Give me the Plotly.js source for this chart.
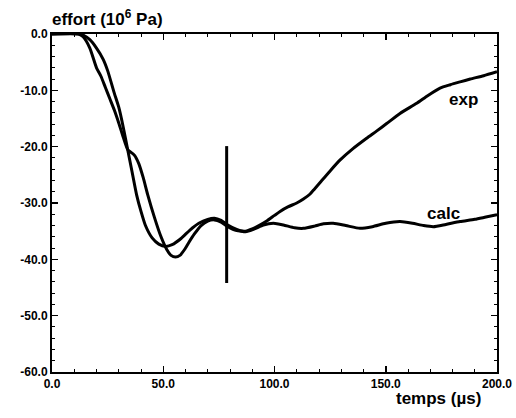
<!DOCTYPE html>
<html>
<head>
<meta charset="utf-8">
<script src="https://cdn.plot.ly/plotly-3.0.1.min.js"></script>
<style>html,body{margin:0;padding:0;background:#fff;}#chart{width:516px;height:418px;}</style>
</head>
<body>
<div id="chart"></div>
<script>
// exp curve (shoulder near -21, deeper minimum)
const expX = [0,12,14,17,20,22,24,26,28,30,32,34,35.5,37,39,41,43,46,49,51.5,53.5,55.5,57.5,59.5,61.5,64,67,70,73,76,79,83,87,90,93,96.5,100,102.5,106,110,113,116,118,120.4,125,129.4,135.4,141.4,146,150.4,156.4,163.9,169,174.4,179,183.4,188,194,200];
const expY = [0,0,-0.5,-2.5,-6,-7.5,-9.5,-11.5,-13.5,-15.8,-18.3,-20.5,-21,-21.5,-23,-25.5,-28.5,-32.5,-36,-38.2,-39.3,-39.6,-39.3,-38.3,-37,-35.5,-34,-33.2,-33.0,-33.4,-34.2,-34.9,-35,-34.6,-34,-33.2,-32.2,-31.5,-30.7,-30.0,-29.3,-28.4,-27.5,-26.4,-24.3,-22.4,-20.3,-18.5,-17.2,-15.9,-14.1,-12.3,-10.9,-9.6,-9.0,-8.5,-8.0,-7.4,-6.7];
// calc curve
const calcX = [0,12,14,17,20,23,25,28,30,32,34,36,38,40,42,45,48,51,54,58,62,66,70,73,76,79,83,87,91,95,99.5,104,109,113,118,122,126.4,132,138.4,144,150,156.4,162,167,171.4,177,183.4,190,195,200];
const calcY = [0,0,-0.2,-1,-2.5,-4.5,-6.5,-10.5,-13,-16.5,-20.5,-24.5,-28.5,-31.5,-34,-36.2,-37.3,-37.7,-37.4,-36.3,-34.8,-33.6,-32.9,-32.7,-33.1,-33.9,-34.7,-35.1,-34.6,-33.9,-33.6,-33.9,-34.4,-34.5,-34.1,-33.7,-33.6,-34.0,-34.5,-34.2,-33.6,-33.3,-33.6,-34.0,-34.2,-33.8,-33.3,-32.9,-32.5,-32.1];
// vertical marker
const markX = [78.5, 78.5];
const markY = [-19.9, -44.2];

const xTickVals = [0,50,100,150,200];
const xTickText = ["0.0","50.0","100.0","150.0","200.0"];
const yTickVals = [0,-10,-20,-30,-40,-50,-60];
const yTickText = ["0.0","-10.0","-20.0","-30.0","-40.0","-50.0","-60.0"];

const FONT = "Liberation Sans, Arial, sans-serif";
const lineStyle = {color:'#000', width:3, shape:'spline', smoothing:0.6};

const traces = [
  {x: expX, y: expY, mode:'lines', line: lineStyle, hoverinfo:'skip'},
  {x: calcX, y: calcY, mode:'lines', line: lineStyle, hoverinfo:'skip'},
  {x: markX, y: markY, mode:'lines', line:{color:'#000', width:3}, hoverinfo:'skip'}
];

const axisCommon = {
  showline:true, linecolor:'#000', linewidth:2, mirror:'ticks',
  ticks:'inside', ticklen:6, tickwidth:1.5, tickcolor:'#000',
  showgrid:false, zeroline:false,
  tickfont:{family:FONT, size:12, color:'#000', weight:'bold'}
};

const layout = {
  width:516, height:418,
  margin:{l:52, r:19, t:34, b:46},
  paper_bgcolor:'#fff', plot_bgcolor:'#fff',
  showlegend:false,
  xaxis: Object.assign({}, axisCommon, {
    range:[0,200], tickvals:xTickVals, ticktext:xTickText,
    minor:{ticks:'inside', ticklen:3, dtick:10, tickcolor:'#000', tickwidth:1}
  }),
  yaxis: Object.assign({}, axisCommon, {
    range:[-60,0], tickvals:yTickVals, ticktext:yTickText,
    minor:{ticks:'inside', ticklen:3, dtick:2, tickcolor:'#000', tickwidth:1}
  }),
  annotations: [
    {xref:'paper', yref:'paper', x:-0.005, y:1.047, xanchor:'left', yanchor:'middle',
     text:'effort (10<sup>6</sup> Pa)', showarrow:false,
     font:{family:FONT, size:17, color:'#000', weight:'bold'}},
    {xref:'paper', yref:'paper', x:0.9685, y:-0.077, xanchor:'right', yanchor:'middle',
     text:'temps (µs)', showarrow:false,
     font:{family:FONT, size:17, color:'#000', weight:'bold'}},
    {xref:'x', yref:'y', x:185, y:-11.7, text:'exp', showarrow:false,
     font:{family:FONT, size:17, color:'#000', weight:'bold'}},
    {xref:'x', yref:'y', x:176, y:-31.9, text:'calc', showarrow:false,
     font:{family:FONT, size:17, color:'#000', weight:'bold'}}
  ]
};

Plotly.newPlot('chart', traces, layout, {staticPlot:true, displayModeBar:false});
</script>
</body>
</html>
